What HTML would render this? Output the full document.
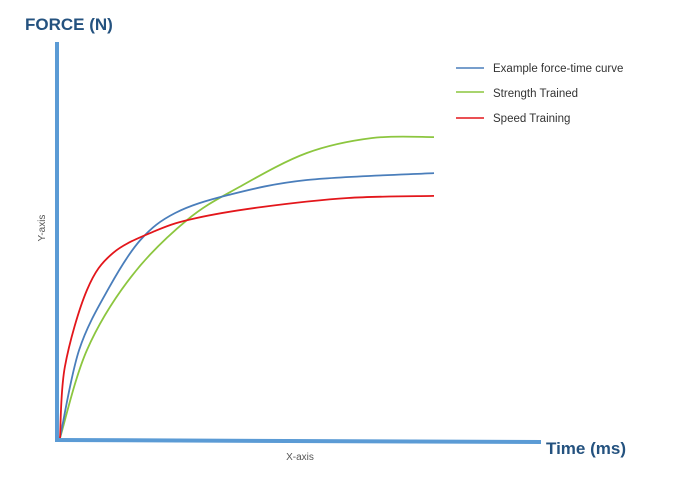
<!DOCTYPE html>
<html><head><meta charset="utf-8"><style>
body{margin:0;background:#fff}
svg{display:block;font-family:"Liberation Sans",sans-serif}
</style></head><body>
<svg width="681" height="480">
<text x="25" y="30" font-size="17" font-weight="bold" fill="#24527f">FORCE (N)</text>
<text x="546" y="454" font-size="17" font-weight="bold" fill="#24527f">Time (ms)</text>
<text x="300" y="460" font-size="10" fill="#555" text-anchor="middle">X-axis</text>
<text transform="translate(45,228) rotate(-90)" font-size="10" fill="#555" text-anchor="middle">Y-axis</text>
<line x1="57" y1="42" x2="57" y2="442" stroke="#5b9bd5" stroke-width="4"/>
<line x1="55" y1="440" x2="541" y2="442" stroke="#5b9bd5" stroke-width="4"/>
<g id="series"></g>
<g>
<line x1="456" y1="68" x2="484" y2="68" stroke="#4a7ebb" stroke-width="1.5"/>
<text x="493" y="72" font-size="11.5" fill="#333">Example force-time curve</text>
<line x1="456" y1="92" x2="484" y2="92" stroke="#8cc63f" stroke-width="1.5"/>
<text x="493" y="97" font-size="11.5" fill="#333">Strength Trained</text>
<line x1="456" y1="118" x2="484" y2="118" stroke="#e3161b" stroke-width="1.5"/>
<text x="493" y="122" font-size="11.5" fill="#333">Speed Training</text>
</g>
</svg>
<script>
const redX=[0,1.3,7.2,14.2,26,36.4,54,77,100];
const redY=[0,23.7,49.3,61.7,69.3,73.3,77,80,80.7];
const blueX=[0,5.1,13.2,21.5,30.8,45,66,100];
const blueY=[0,29.3,50.3,66,75,81,86,88.3];
const greenX=[0,7.2,19,34,48,66,83.5,100];
const greenY=[0,29.3,53.7,72.7,83.7,95,100,100.3];
function sx(v){return 60+v*3.74;}
function sy(v){return 438-v*3;}
function path(xs,ys){
  const p=xs.map((x,i)=>[sx(x),sy(ys[i])]);
  let d="M"+p[0][0]+","+p[0][1];
  for(let i=0;i<p.length-1;i++){
    const p0=p[Math.max(0,i-1)],p1=p[i],p2=p[i+1],p3=p[Math.min(p.length-1,i+2)];
    const c1=[p1[0]+(p2[0]-p0[0])/6,p1[1]+(p2[1]-p0[1])/6];
    const c2=[p2[0]-(p3[0]-p1[0])/6,p2[1]-(p3[1]-p1[1])/6];
    d+=" C"+c1+" "+c2+" "+p2;
  }
  return d;
}
const g=document.getElementById('series');
function add(xs,ys,color,name){
  const el=document.createElementNS("http://www.w3.org/2000/svg","path");
  el.setAttribute('d',path(xs,ys));
  el.setAttribute('fill','none');
  el.setAttribute('stroke',color);
  el.setAttribute('stroke-width','1.8');
  
  
  g.appendChild(el);
}
add(greenX,greenY,'#8cc63f','strength-trained-curve');
add(blueX,blueY,'#4a7ebb','example-force-time-curve');
add(redX,redY,'#e3161b','speed-training-curve');
</script>
</body></html>
